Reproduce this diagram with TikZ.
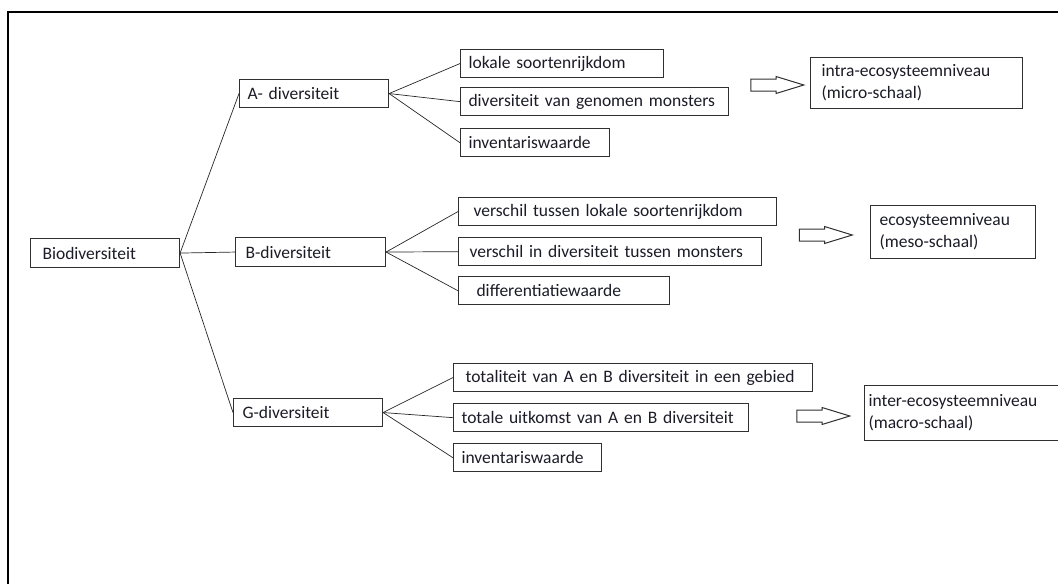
\documentclass[tikz,border=0pt]{standalone}
\usepackage{fontspec}
\setmainfont{Carlito}
\usetikzlibrary{shapes, arrows, positioning}
\definecolor{boxgray}{HTML}{303030}
\definecolor{inkblue}{HTML}{1C1C28}
\tikzstyle{box} = [draw=boxgray, line width=1.1pt, rectangle, fill=white, anchor=north west, minimum height=28pt, inner xsep=0pt, inner ysep=2pt, align=left, text=inkblue, font=\fontsize{17.5}{22}\selectfont]
\tikzset{lpad/.style={execute at begin node={\leftskip=#1pt}}}
\tikzstyle{line} = [draw, line width=0.7pt, black!85]
\tikzstyle{fatarrow} = [draw=boxgray, line width=1pt, single arrow, fill=white, minimum height=53pt, inner xsep=0pt, inner ysep=5.5pt, single arrow head extend=2.5pt, single arrow tip angle=34]

\begin{document}
\begin{tikzpicture}[x=1pt, y=-1pt]
	\useasboundingbox (0,0) rectangle (1058,584);
	\clip (0,0) rectangle (1058,584);
	% frame
	\draw [line width=2pt] (8,584) -- (8,12) -- (1060,12);
	
	\node [box, text width=149pt, lpad=12, minimum height=29pt] (bio) at (30,238) {Biodiversiteit};
	\node [box, text width=149pt, lpad=8] (adiv) at (239,79) {A- diversiteit};
	\node [box, text width=150pt, lpad=10, minimum height=29pt] (bdiv) at (235,237) {B-diversiteit};
	\node [box, text width=149pt, lpad=9] (gdiv) at (233,398) {G-diversiteit};
	
	% A
	\node [box, text width=203pt, lpad=8] (a1) at (460,49) {lokale soortenrijkdom};
	\node [box, text width=268pt, lpad=8, below=9pt of a1.south west, anchor=north west] (a2) {diversiteit van genomen monsters};
	\node [box, text width=149pt, lpad=8, below=12pt of a2.south west, anchor=north west] (a3) {inventariswaarde};
	\node [box, text width=212pt, lpad=11, minimum height=51pt] (intra) at (810,57) {intra-ecosysteemniveau\\(micro-schaal)};
	\node [fatarrow] (arA) at (767.5,85) {};
	
	% B
	\node [box, text width=318pt, lpad=15] (b1) at (458,197) {verschil tussen lokale soortenrijkdom};
	\node [box, text width=303pt, lpad=11, below=11pt of b1.south west, anchor=north west] (b2) {verschil in diversiteit tussen monsters};
	\node [box, text width=211pt, lpad=18, below=10pt of b2.south west, anchor=north west] (b3) {differentiatiewaarde};
	\node [box, text width=165pt, lpad=9, minimum height=53pt] (eco) at (870,205) {ecosysteemniveau\\(meso-schaal)};
	\node [fatarrow] (arB) at (816,235) {};
	
	% G
	\node [box, text width=359pt, lpad=12] (g1) at (453,363) {totaliteit van A en B diversiteit in een gebied};
	\node [box, text width=295pt, lpad=8, below=11pt of g1.south west, anchor=north west] (g2) {totale uitkomst van A en B diversiteit};
	\node [box, text width=148pt, lpad=8, below=11pt of g2.south west, anchor=north west] (g3) {inventariswaarde};
	\node [box, text width=200pt, lpad=4, minimum height=55pt] (inter) at (864,385) {inter-ecosysteemniveau\\(macro-schaal)};
	\node [fatarrow] (arG) at (813.5,416) {};
	
	\path [line] (bio.east) -- (adiv.west);
	\path [line] (bio.east) -- (bdiv.west);
	\path [line] (bio.east) -- (gdiv.west);
	\path [line] (adiv.east) -- (a1.west);
	\path [line] (adiv.east) -- (a2.west);
	\path [line] (adiv.east) -- (a3.west);
	\path [line] (bdiv.east) -- (b1.west);
	\path [line] (bdiv.east) -- (b2.west);
	\path [line] (bdiv.east) -- (b3.west);
	\path [line] (gdiv.east) -- (g1.west);
	\path [line] (gdiv.east) -- (g2.west);
	\path [line] (gdiv.east) -- (g3.west);
\end{tikzpicture}
\end{document}
